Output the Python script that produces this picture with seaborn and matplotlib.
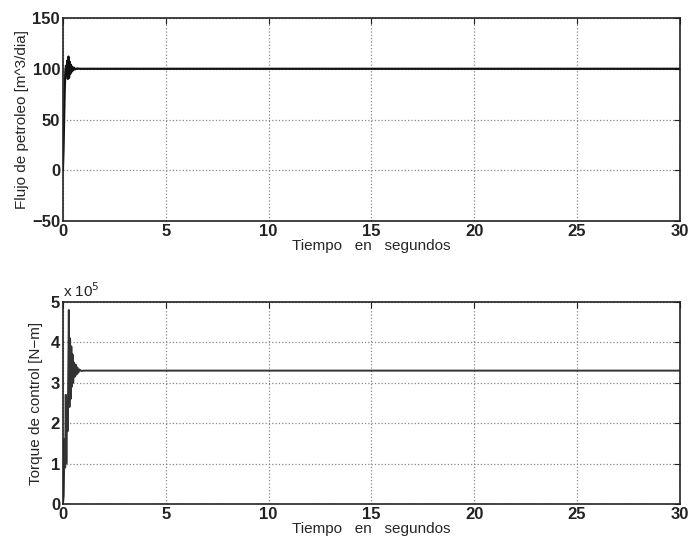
import numpy as np
import pandas as pd
import seaborn as sns
from matplotlib import pyplot as plt
from matplotlib.ticker import FuncFormatter

# respuesta del flujo de petroleo
t_flujo = [0, 0.03, 0.06, 0.09, 0.12, 0.15, 0.18, 0.21, 0.24, 0.27, 0.30, 0.33,
           0.36, 0.39, 0.42, 0.46, 0.50, 0.55, 0.60, 0.70, 0.80, 1.0, 30]
flujo = [0, 20, 50, 80, 97, 103, 94, 108, 90, 112, 91, 107, 95, 104, 97,
         102, 98.5, 101, 99.5, 100.3, 100, 100, 100]

# torque de control
t_torque = [0, 0.04, 0.08, 0.11, 0.14, 0.17, 0.20, 0.23, 0.26, 0.29, 0.32,
            0.35, 0.38, 0.41, 0.44, 0.47, 0.50, 0.54, 0.58, 0.62, 0.66, 0.70,
            0.75, 0.80, 0.90, 1.0, 30]
torque = [0, 0.2e5, 1.6e5, 0.9e5, 2.7e5, 1.0e5, 2.6e5, 1.8e5, 3.1e5, 4.8e5,
          2.4e5, 4.1e5, 2.6e5, 3.9e5, 2.9e5, 3.7e5, 3.0e5, 3.5e5, 3.15e5,
          3.45e5, 3.2e5, 3.38e5, 3.25e5, 3.33e5, 3.29e5, 3.3e5, 3.3e5]

df1 = pd.DataFrame({'t': t_flujo, 'y': flujo})
df2 = pd.DataFrame({'t': t_torque, 'y': torque})

sns.set_style("white")
plt.rcParams['font.family'] = ['Liberation Sans', 'DejaVu Sans']

fig = plt.figure(figsize=(6.91, 5.46), dpi=100)
ax1 = fig.add_axes([0.091, 0.595, 0.893, 0.372])
ax2 = fig.add_axes([0.091, 0.077, 0.893, 0.370])

sns.lineplot(data=df1, x='t', y='y', ax=ax1, color='#111111', lw=1.6)
sns.lineplot(data=df2, x='t', y='y', ax=ax2, color='#333333', lw=1.4)

ax1.set_ylim(-50, 150)
ax1.set_yticks([-50, 0, 50, 100, 150])
ax2.set_ylim(0, 5e5)
ax2.set_yticks([0, 1e5, 2e5, 3e5, 4e5, 5e5])
ax2.yaxis.set_major_formatter(FuncFormatter(lambda v, p: f'{v / 1e5:g}'))

ax1.set_ylabel('Flujo de petroleo [m^3/dia]', fontsize=11, labelpad=2)
ax2.set_ylabel('Torque de control [N\u2212m]', fontsize=11, labelpad=6)

for ax in (ax1, ax2):
    ax.set_xlim(0, 30)
    ax.set_xticks([0, 5, 10, 15, 20, 25, 30])
    ax.set_xlabel('Tiempo   en   segundos', fontsize=11, labelpad=0)
    ax.grid(True, linestyle=':', color='#888888', lw=0.9)
    ax.tick_params(direction='in', top=True, right=True, length=4,
                   labelsize=12, colors='#222222', pad=2)
    for lab in ax.get_xticklabels() + ax.get_yticklabels():
        lab.set_fontweight('bold')
    for s in ax.spines.values():
        s.set_color('#222222')
        s.set_linewidth(1.2)

ax2.text(0.0, 1.01, r'x 10$^5$', transform=ax2.transAxes, fontsize=11,
         va='bottom', ha='left', color='#222222')

fig.savefig('out.png', dpi=100, facecolor='white')
